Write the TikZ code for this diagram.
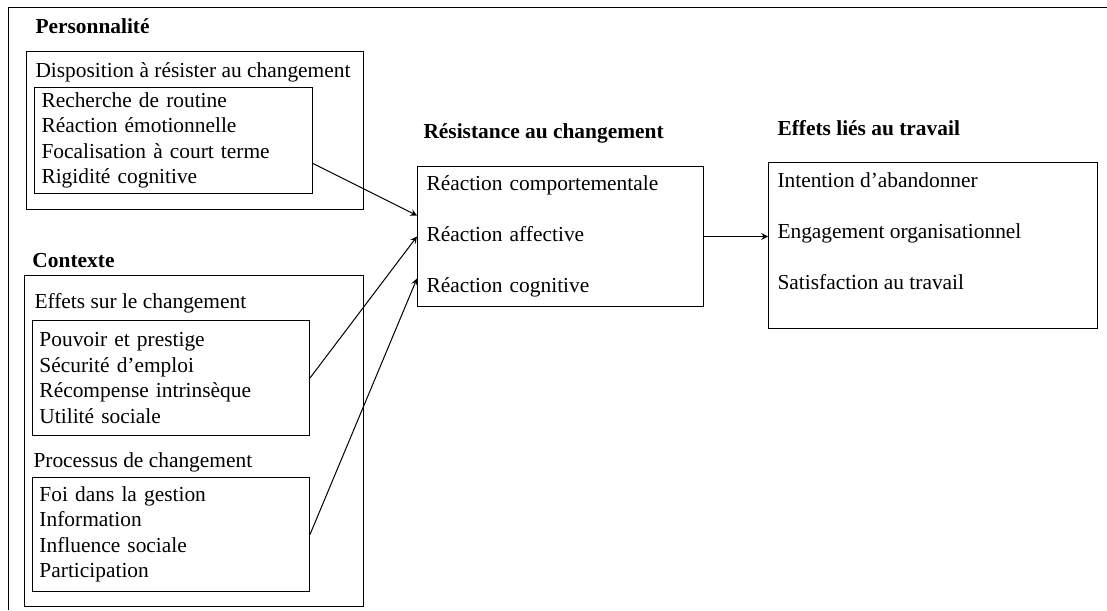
\documentclass[tikz,border=0pt]{standalone}
\usepackage{fontspec}
\setmainfont{Liberation Serif}
\begin{document}
\begin{tikzpicture}[x=0.5pt,y=-0.5pt,>=stealth,line width=0.5pt,
    every node/.style={font=\fontsize{10.7}{12.75}\selectfont},
    cadre/.style={rectangle,draw,anchor=north west,inner sep=0pt},
    liste/.style={rectangle,draw,anchor=north west,align=left,inner xsep=3.5pt,inner ysep=0pt},
    titre/.style={anchor=west,inner sep=0pt,text height=7.5pt,text depth=2.3pt,font=\fontsize{10.7}{12.75}\selectfont\bfseries},
    soustitre/.style={anchor=west,inner sep=0pt,text height=7.5pt,text depth=2.3pt}]
        \useasboundingbox (0,0) rectangle (1107,610);
        \draw (1107,8) -- (8,8) -- (8,610);

        % personnalite
        \draw (35,28) node (perso) [titre] {Personnalité};
        \draw (26,51) node (dispo) [cadre,minimum width=168.5pt,minimum height=79pt] {};
        \draw (35,72) node (dispotitre) [soustitre] {Disposition à résister au changement};
        \draw (34,87) node (dispoliste) [liste,text width=132pt,minimum height=53pt] {Recherche de routine\\Réaction émotionnelle\\Focalisation à court terme\\Rigidité cognitive};

        % contexte
        \draw (32,262) node (ctx) [titre] {Contexte};
        \draw (24,275) node (contexte) [cadre,minimum width=169.5pt,minimum height=165.5pt] {};
        \draw (34,303) node (effetstitre) [soustitre] {Effets sur le changement};
        \draw (32,320) node (effetsliste) [liste,text width=131.5pt,minimum height=57.5pt] {Pouvoir et prestige\\Sécurité d'emploi\\Récompense intrinsèque\\Utilité sociale};
        \draw (33,462) node (procestitre) [soustitre] {Processus de changement};
        \draw (32,477) node (procesliste) [liste,text width=131.5pt,minimum height=57pt] {Foi dans la gestion\\Information\\Influence sociale\\Participation};

        % resistance
        \draw (423,133) node (resisttitre) [titre] {Résistance au changement};
        \draw (417,166) node (resistance) [liste,inner xsep=4.5pt,text width=134pt,minimum height=70pt,font=\fontsize{10.7}{25.5}\selectfont] {Réaction comportementale\\Réaction affective\\Réaction cognitive};

        % effets lies au travail
        \draw (777,130) node (travailtitre) [titre] {Effets liés au travail};
        \draw (768,162) node (travail) [cadre,minimum width=164.5pt,minimum height=83pt] {};
        \draw (777,172) node (travailliste) [anchor=north west,inner sep=0pt,align=left,font=\fontsize{10.7}{25.5}\selectfont] {Intention d'abandonner\\Engagement organisationnel\\Satisfaction au travail};

        \draw [->] ([yshift=-11.5pt]dispoliste.east) to ([yshift=10.5pt]resistance.west);
        \draw [->] (effetsliste.east) to (resistance.west);
        \draw [->] (procesliste.east) to ([yshift=-21pt]resistance.west);
        \draw [->] (resistance.east) to (resistance.east -| travail.west);

    \end{tikzpicture}
\end{document}
